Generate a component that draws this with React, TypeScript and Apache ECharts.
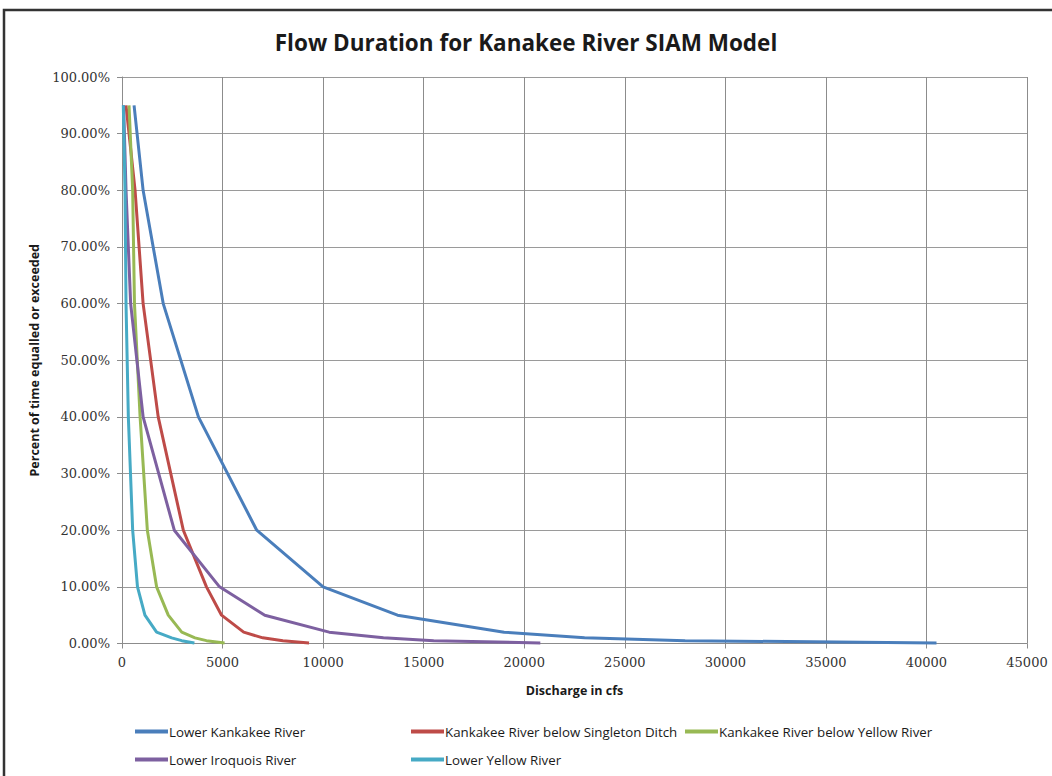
import React, { useEffect, useRef } from "react";
import * as echarts from "echarts";

// Exceedance levels (percent of time equalled or exceeded)
const levels = [95, 80, 60, 40, 20, 10, 5, 2, 1, 0.5, 0.1];

// Discharge (cfs) at each level
const lowerKankakee = [600, 1050, 2050, 3800, 6700, 10000, 13700, 19000, 23000, 28000, 40500];
const belowSingleton = [200, 650, 1050, 1800, 3050, 4200, 4950, 6050, 7000, 8000, 9300];
const belowYellow = [350, 530, 620, 900, 1260, 1720, 2300, 2970, 3630, 4200, 5100];
const lowerIroquois = [80, 200, 430, 1050, 2600, 4850, 7100, 10300, 13000, 15500, 20800];
const lowerYellow = [65, 150, 200, 315, 530, 770, 1140, 1720, 2470, 2970, 3600];

const seriesNames = [
  "Lower Kankakee River",
  "Kankakee River below Singleton Ditch",
  "Kankakee River below Yellow River",
  "Lower Iroquois River",
  "Lower Yellow River",
];
const seriesValues = [lowerKankakee, belowSingleton, belowYellow, lowerIroquois, lowerYellow];
const seriesColors = ["#4a7ebb", "#be4b48", "#98b954", "#7d60a0", "#46aac5"];

const titleText = "Flow Duration for Kanakee River SIAM Model";
const xAxisName = "Discharge in cfs";
const yAxisName = "Percent of time equalled or exceeded";

const gridColor = "#8c8c8c";
const sansFont = "'Open Sans', 'Noto Sans', sans-serif";
const serifFont = "'DejaVu Serif', serif";

export default function App() {
  const ref = useRef<HTMLDivElement>(null);

  useEffect(() => {
    if (!ref.current) return;
    const chart = echarts.init(ref.current, undefined, { renderer: "svg" });

    const legendPos = [
      { left: 130, top: 720 },
      { left: 406, top: 720 },
      { left: 680, top: 720 },
      { left: 130, top: 748 },
      { left: 406, top: 748 },
    ];

    const option: any = {
      animation: false,
      backgroundColor: "#ffffff",
      title: {
        text: titleText,
        left: "center",
        top: 26,
        textStyle: {
          fontFamily: sansFont,
          fontSize: 22.5,
          fontWeight: "bold",
          color: "#1a1a1a",
        },
      },
      graphic: [
        {
          type: "rect",
          shape: { x: 4, y: 10, width: 1100, height: 900 },
          style: { fill: "none", stroke: "#333333", lineWidth: 2.5 },
          silent: true,
        },
      ],
      legend: seriesNames.map((name, i) => ({
        data: [name],
        left: legendPos[i].left,
        top: legendPos[i].top,
        icon: "rect",
        itemWidth: 33,
        itemHeight: 4,
        itemGap: 0,
        selectedMode: false,
        textStyle: {
          fontFamily: sansFont,
          fontSize: 13.3,
          color: "#1a1a1a",
          padding: [0, 0, 0, -4],
        },
      })),
      grid: {
        left: 122,
        right: 25,
        top: 77,
        bottom: 132.5,
        containLabel: false,
      },
      xAxis: {
        type: "value",
        min: 0,
        max: 45000,
        interval: 5000,
        name: xAxisName,
        nameLocation: "middle",
        nameGap: 40,
        nameTextStyle: {
          fontFamily: sansFont,
          fontSize: 12.5,
          fontWeight: "bold",
          color: "#1a1a1a",
        },
        axisLine: { show: true, lineStyle: { color: gridColor, width: 1 } },
        axisTick: { show: true, inside: false, length: 5, lineStyle: { color: gridColor } },
        axisLabel: {
          margin: 12,
          fontFamily: serifFont,
          fontSize: 13,
          color: "#333333",
          formatter: (v: number) => String(v),
        },
        splitLine: { show: true, lineStyle: { color: gridColor, width: 1 } },
      },
      yAxis: {
        type: "value",
        min: 0,
        max: 100,
        interval: 10,
        name: yAxisName,
        nameLocation: "middle",
        nameGap: 75,
        nameRotate: 90,
        nameTextStyle: {
          fontFamily: sansFont,
          fontSize: 12.5,
          fontWeight: "bold",
          color: "#1a1a1a",
        },
        axisLine: { show: true, lineStyle: { color: gridColor, width: 1 } },
        axisTick: { show: true, inside: false, length: 5, lineStyle: { color: gridColor } },
        axisLabel: {
          margin: 12,
          fontFamily: serifFont,
          fontSize: 13,
          color: "#333333",
          formatter: (v: number) => v.toFixed(2) + "%",
        },
        splitLine: { show: true, lineStyle: { color: "#9a9a9a", width: 1.2 } },
      },
      series: seriesNames.map((name, i) => ({
        name,
        type: "line",
        showSymbol: false,
        symbol: "none",
        color: seriesColors[i],
        lineStyle: { color: seriesColors[i], width: 3 },
        data: seriesValues[i].map((x, j) => [x, levels[j]]),
        z: 2 + i,
      })),
    };

    chart.setOption(option);
    return () => {
      chart.dispose();
    };
  }, []);

  return (
    <div
      ref={ref}
      style={{ position: "fixed", left: 0, top: 0, width: 1052, height: 776 }}
    />
  );
}
